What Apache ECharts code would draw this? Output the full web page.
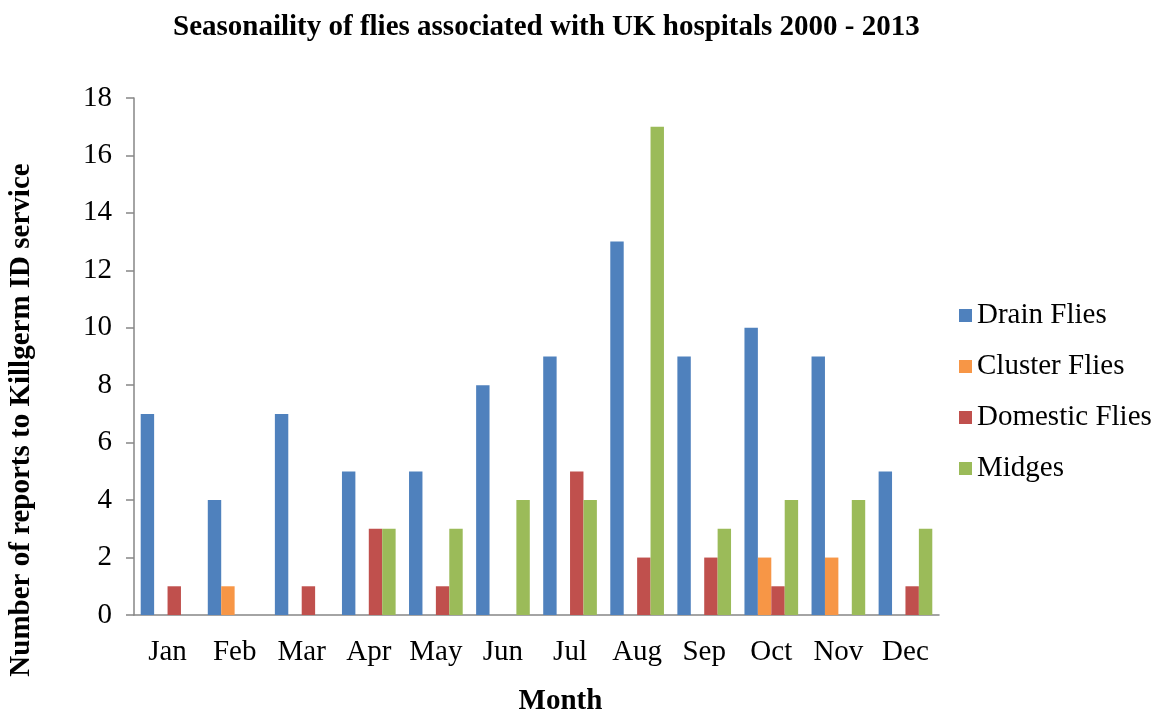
<!DOCTYPE html>
<html>
<head>
<meta charset="utf-8">
<script src="https://cdn.jsdelivr.net/npm/echarts@6/dist/echarts.min.js"></script>
<style>
  html, body { margin: 0; padding: 0; background: #fff; }
  #main { width: 1156px; height: 713px; }
</style>
</head>
<body>
<div id="main"></div>
<script>
  var months = ['Jan', 'Feb', 'Mar', 'Apr', 'May', 'Jun', 'Jul', 'Aug', 'Sep', 'Oct', 'Nov', 'Dec'];
  var drainFlies = [7, 4, 7, 5, 5, 8, 9, 13, 9, 10, 9, 5];
  var clusterFlies = [0, 1, 0, 0, 0, 0, 0, 0, 0, 2, 2, 0];
  var domesticFlies = [1, 0, 1, 3, 1, 0, 5, 2, 2, 1, 0, 1];
  var midges = [0, 0, 0, 3, 3, 4, 4, 17, 3, 4, 4, 3];

  var font = '"Liberation Serif", "Times New Roman", serif';

  var myChart = echarts.init(document.getElementById('main'));
  myChart.setOption({
    animation: false,
    textStyle: { fontFamily: font },
    title: {
      text: 'Seasonaility of flies associated with UK hospitals 2000 - 2013',
      left: 168,
      top: 8,
      textStyle: { fontFamily: font, fontSize: 29, fontWeight: 'bold', color: '#000' }
    },
    legend: {
      orient: 'vertical',
      left: 954,
      top: 296,
      itemWidth: 13,
      itemHeight: 13,
      itemGap: 22,
      icon: 'rect',
      textStyle: { fontFamily: font, fontSize: 29, color: '#000' },
      data: ['Drain Flies', 'Cluster Flies', 'Domestic Flies', 'Midges']
    },
    grid: {
      left: 134,
      right: 217,
      top: 98,
      bottom: 98,
      outerBoundsMode: 'none'
    },
    xAxis: {
      type: 'category',
      data: months,
      name: 'Month',
      nameLocation: 'middle',
      nameGap: 72,
      nameTextStyle: { fontFamily: font, fontSize: 29, fontWeight: 'bold', color: '#000', padding: [0, 0, 0, 48] },
      axisLine: { lineStyle: { color: '#868686', width: 1.5 } },
      axisTick: { alignWithLabel: false, interval: 0, length: 8, lineStyle: { color: '#868686', width: 1.5 } },
      axisLabel: { interval: 0, fontFamily: font, fontSize: 29, color: '#000', margin: 23 }
    },
    yAxis: {
      type: 'value',
      min: 0,
      max: 18,
      interval: 2,
      axisLine: { show: true, lineStyle: { color: '#868686', width: 1.5 } },
      axisTick: { show: true, length: 8, lineStyle: { color: '#868686', width: 1.5 } },
      splitLine: { show: false },
      axisLabel: { fontFamily: font, fontSize: 29, color: '#000', margin: 22 }
    },
    graphic: [{
      type: 'text',
      x: 22,
      y: 420,
      rotation: Math.PI / 2,
      style: {
        text: 'Number of reports to Killgerm ID service',
        font: 'bold 29px ' + font,
        fill: '#000',
        textAlign: 'center',
        textVerticalAlign: 'middle'
      }
    }],
    series: [
      {
        name: 'Drain Flies',
        type: 'bar',
        barGap: 0,
        barCategoryGap: '20%',
        itemStyle: { color: '#4F81BD' },
        data: drainFlies
      },
      {
        name: 'Cluster Flies',
        type: 'bar',
        itemStyle: { color: '#F79646' },
        data: clusterFlies
      },
      {
        name: 'Domestic Flies',
        type: 'bar',
        itemStyle: { color: '#C0504D' },
        data: domesticFlies
      },
      {
        name: 'Midges',
        type: 'bar',
        itemStyle: { color: '#9BBB59' },
        data: midges
      }
    ]
  });
</script>
</body>
</html>
